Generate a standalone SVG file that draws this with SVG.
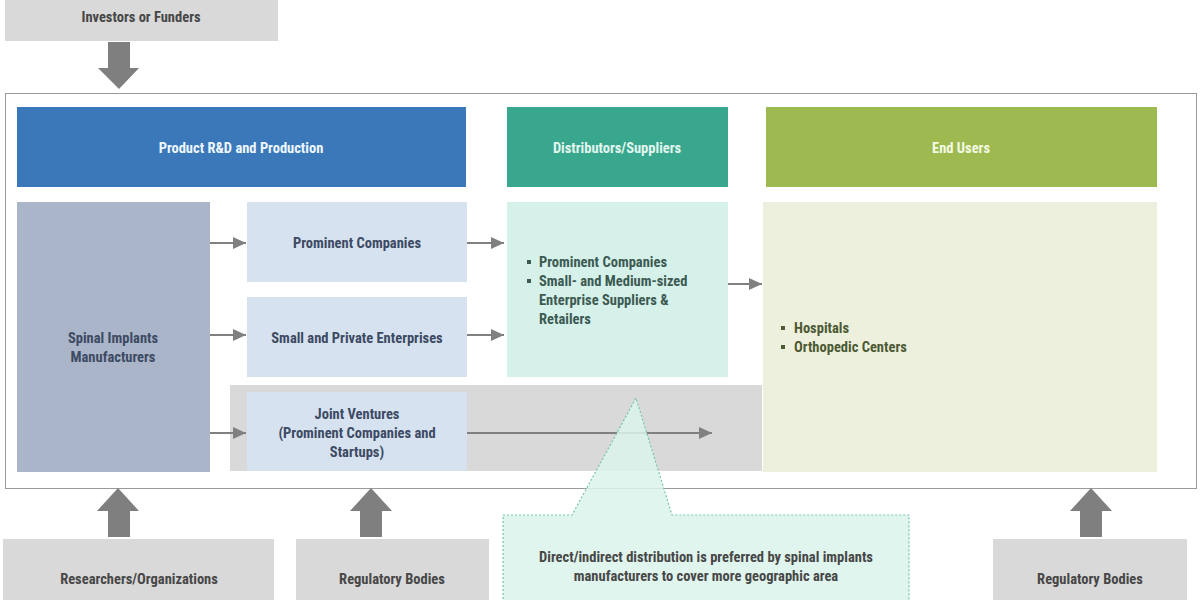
<svg xmlns="http://www.w3.org/2000/svg" width="1200" height="600" viewBox="0 0 1200 600">
<defs>
<marker id="ah" markerUnits="userSpaceOnUse" markerWidth="14" markerHeight="14" refX="13" refY="7" orient="auto">
<path d="M0,1 L13,7 L0,13 Z" fill="#808080"/>
</marker>
<style>
text{font-family:"Liberation Sans Narrow","Roboto Condensed","DejaVu Sans Condensed","Liberation Sans",sans-serif;font-weight:bold;font-size:14.5px;text-anchor:middle}
.gbox{fill:#d9d9d9}
.hd{fill:#eef6ff}
.blue{fill:#d6e2f0}
.dk{fill:#3d4a63}
.gr{fill:#474747}
.con{stroke:#808080;stroke-width:2;fill:none;marker-end:url(#ah)}
.blk{fill:#7f7f7f}
.lt{text-anchor:start}
</style>
</defs>
<rect width="1200" height="600" fill="#ffffff"/>
<rect x="5.5" y="93.5" width="1191" height="395" fill="#ffffff" stroke="#9a9a9a" stroke-width="1"/>

<g id="investors"><rect class="gbox" x="5" y="0" width="273" height="41"/><text class="gr" x="141" y="22">Investors or Funders</text></g>

<g id="hdr-rd"><rect x="17" y="107" width="449" height="80" fill="#3a78b9"/><text class="hd" x="241" y="153">Product R&amp;D and Production</text></g>
<g id="hdr-dist"><rect x="507" y="107" width="221" height="80" fill="#38a78e"/><text x="617" y="153" fill="#e2f6ef">Distributors/Suppliers</text></g>
<g id="hdr-end"><rect x="766" y="107" width="391" height="80" fill="#9db94f"/><text x="961" y="153" fill="#f4f9e4">End Users</text></g>

<g id="band"><rect x="230" y="385" width="532" height="86" fill="#d9d9d9"/></g>

<g id="spinal"><rect x="17" y="202" width="193" height="270" fill="#abb5c9"/><text class="dk" x="113" y="343">Spinal Implants</text><text class="dk" x="113" y="362">Manufacturers</text></g>
<g id="prominent"><rect class="blue" x="247" y="202" width="220" height="80"/><text class="dk" x="357" y="248">Prominent Companies</text></g>
<g id="small"><rect class="blue" x="247" y="297" width="220" height="80"/><text class="dk" x="357" y="343">Small and Private Enterprises</text></g>
<g id="jv"><rect class="blue" x="247" y="392" width="220" height="79"/><text class="dk" x="357" y="419">Joint Ventures</text><text class="dk" x="357" y="438">(Prominent Companies and</text><text class="dk" x="357" y="457">Startups)</text></g>

<g id="dist"><rect x="507" y="202" width="221" height="175" fill="#d6f1ea"/>
<rect x="527" y="260" width="4" height="4" fill="#3c5a52"/><rect x="527" y="279" width="4" height="4" fill="#3c5a52"/>
<text class="lt" x="539" y="267" fill="#3c5a52">Prominent Companies</text>
<text class="lt" x="539" y="286" fill="#3c5a52">Small- and Medium-sized</text>
<text class="lt" x="539" y="305" fill="#3c5a52">Enterprise Suppliers &amp;</text>
<text class="lt" x="539" y="324" fill="#3c5a52">Retailers</text></g>

<g id="endusers"><rect x="763" y="202" width="394" height="270" fill="#eef0de"/>
<rect x="781" y="326" width="4" height="4" fill="#4c5a34"/><rect x="781" y="345" width="4" height="4" fill="#4c5a34"/>
<text class="lt" x="794" y="333" fill="#4c5a34">Hospitals</text>
<text class="lt" x="794" y="352" fill="#4c5a34">Orthopedic Centers</text></g>

<g id="researchers"><rect class="gbox" x="3" y="539" width="271" height="61"/><text class="gr" x="139" y="584">Researchers/Organizations</text></g>
<g id="regulatory1"><rect class="gbox" x="296" y="539" width="193" height="61"/><text class="gr" x="392" y="584">Regulatory Bodies</text></g>
<g id="regulatory2"><rect class="gbox" x="993" y="539" width="194" height="61"/><text class="gr" x="1090" y="584">Regulatory Bodies</text></g>

<g id="connectors">
<line class="con" x1="210" y1="243" x2="246" y2="243"/>
<line class="con" x1="210" y1="335" x2="246" y2="335"/>
<line class="con" x1="210" y1="433" x2="246" y2="433"/>
<line class="con" x1="467" y1="243" x2="504" y2="243"/>
<line class="con" x1="467" y1="335" x2="504" y2="335"/>
<line class="con" x1="728" y1="284" x2="762" y2="284"/>
<line class="con" x1="467" y1="433" x2="712" y2="433"/>
<polygon class="blk" points="108,42 130,42 130,68 139,68 119,89 98,68 108,68"/>
<polygon class="blk" points="108,537 130,537 130,511 139,511 118,488 97,511 108,511"/>
<polygon class="blk" points="360,537 382,537 382,511 392,511 371,488 350,511 360,511"/>
<polygon class="blk" points="1080,537 1102,537 1102,511 1112,511 1091,488 1070,511 1080,511"/>
</g>

<g id="callout">
<path d="M503,615 L503,515 L572,515 L636,398 L672,515 L909,515 L909,615 Z" fill="#d9f3ea" fill-opacity="0.85" stroke="#78c4ab" stroke-width="1.2" stroke-dasharray="2,2"/>
<text class="gr" x="706" y="562">Direct/indirect distribution is preferred by spinal implants</text>
<text class="gr" x="706" y="581">manufacturers to cover more geographic area</text>
</g>
</svg>
